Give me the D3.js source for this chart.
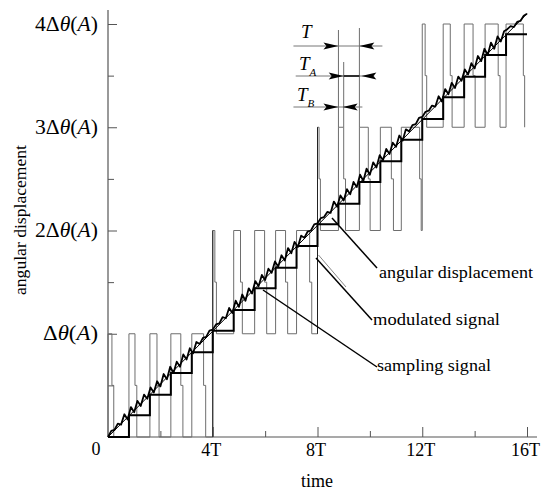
<!DOCTYPE html>
<html>
<head>
<meta charset="utf-8">
<script src="https://cdn.jsdelivr.net/npm/d3@7"></script>
<style>
body{margin:0;background:#fff;}
svg text{font-family:"Liberation Serif","Times New Roman",serif;fill:#000;}
</style>
</head>
<body>
<svg id="chart" width="542" height="493"></svg>
<script>
// axis ticks (time in T, displacement in units of delta theta)
var xMinorTicks = [2, 6, 10, 14];
var xMajorTicks = [4, 8, 12, 16];
var xLabels = ["4T", "8T", "12T", "16T"];
var yMinorTicks = [0.5, 1.5, 2.5, 3.5];
var yMajorTicks = [1, 2, 3, 4];
var yLabelPre = ["", "2", "3", "4"];

// angular displacement (straight line)
var dispT = [0, 16];
var dispV = [0, 4.1];

// sampling signal (held staircase)
var sampleT = [0, 0.8, 1.6, 2.4, 3.2, 4, 4.8, 5.6, 6.4, 7.2, 8, 8.8, 9.6, 10.4, 11.2, 12, 12.8, 13.6, 14.4, 15.2];
var sampleV = [0, 0.21, 0.41, 0.62, 0.82, 1.03, 1.23, 1.44, 1.64, 1.85, 2.06, 2.26, 2.47, 2.67, 2.88, 3.08, 3.29, 3.49, 3.70, 3.90];
var sampleEnd = 16;

// modulated signal (pulses)
var pulseRise = [0, 0.8, 1.6, 2.4, 3.2, 4, 4.8, 5.6, 6.4, 7.2, 8, 8.8, 9.6, 10.4, 11.2, 12, 12.8, 13.6, 14.4, 15.2];
var pulseFall = [0.15, 1.03, 1.87, 2.78, 3.65, 4.08, 5.06, 5.98, 6.78, 7.70, 8.06, 9.00, 9.94, 10.82, 11.90, 12.11, 13.07, 13.94, 14.90, 15.86];
var pulseFallEnd = [0.22, 1.10, 1.95, 2.86, 3.73, 4.14, 5.13, 6.06, 6.86, 7.78, 8.11, 9.07, 10.01, 10.90, 11.96, 12.17, 13.14, 14.02, 14.97, 15.91];
var pulseBase = [0, 0, 0, 0, 0, 1, 1, 1, 1, 1, 2, 2, 2, 2, 2, 3, 3, 3, 3, 3];
// level jumps drawn darker
var boundaryT = [4, 8];

// jagged measured trace, one value every T/8
var jagStep = 0.125;
var jagV = [0, 0.06, 0.07, 0.13, 0.12, 0.22, 0.17, 0.29, 0.24, 0.35, 0.30, 0.41, 0.37, 0.48, 0.43, 0.54,
  0.49, 0.61, 0.56, 0.68, 0.62, 0.73, 0.68, 0.80, 0.75, 0.86, 0.81, 0.92, 0.90, 0.96, 0.97, 1.03,
  1.04, 1.09, 1.10, 1.16, 1.15, 1.25, 1.20, 1.32, 1.26, 1.38, 1.32, 1.44, 1.39, 1.51, 1.46, 1.57,
  1.52, 1.63, 1.59, 1.70, 1.65, 1.76, 1.71, 1.83, 1.78, 1.89, 1.84, 1.95, 1.93, 1.99, 2.00, 2.06,
  2.07, 2.12, 2.13, 2.18, 2.17, 2.28, 2.23, 2.34, 2.29, 2.40, 2.35, 2.47, 2.42, 2.54, 2.48, 2.60,
  2.54, 2.66, 2.61, 2.73, 2.68, 2.79, 2.74, 2.85, 2.81, 2.92, 2.87, 2.98, 2.96, 3.02, 3.03, 3.09,
  3.10, 3.15, 3.16, 3.21, 3.20, 3.30, 3.25, 3.37, 3.32, 3.43, 3.38, 3.49, 3.45, 3.56, 3.51, 3.62,
  3.57, 3.69, 3.64, 3.76, 3.70, 3.82, 3.76, 3.88, 3.83, 3.93, 3.95, 3.98, 3.97, 4.02, 4.03, 4.08, 4.10];

// period annotation: start of T, end of high part, end of T
var annT0 = 8.8, annT1 = 9.0, annT2 = 9.6;

var svg = d3.select('#chart');
var x = d3.scaleLinear().domain([0, 16]).range([108, 527]);
var y = d3.scaleLinear().domain([0, 4]).range([437, 24]);
var axisColor = '#555';
var waveColor = '#6e6e6e';

// x axis
var gx = svg.append('g').attr('transform', 'translate(0,' + y(0) + ')');
gx.call(d3.axisBottom(x).tickValues(xMinorTicks).tickSize(-6).tickSizeOuter(0).tickFormat(''));
gx.append('g').call(d3.axisBottom(x).tickValues(xMajorTicks).tickSize(-10).tickSizeOuter(0).tickPadding(6)
  .tickFormat(function(d, i){ return xLabels[i]; }));
gx.selectAll('.domain').remove();
gx.selectAll('line').attr('stroke', axisColor);
gx.selectAll('text').attr('font-size', 18).attr('font-family', null).attr('fill', '#000').attr('dx', -2);
svg.append('line').attr('x1', x(0)).attr('x2', 537).attr('y1', y(0)).attr('y2', y(0))
  .attr('stroke', axisColor).attr('stroke-width', 1.2);

// y axis
var gy = svg.append('g').attr('transform', 'translate(' + x(0) + ',0)');
gy.call(d3.axisLeft(y).tickValues(yMinorTicks).tickSize(-6).tickSizeOuter(0).tickFormat(''));
gy.append('g').call(d3.axisLeft(y).tickValues(yMajorTicks).tickSize(-9).tickSizeOuter(0).tickFormat(''));
gy.selectAll('.domain').remove();
gy.selectAll('line').attr('stroke', axisColor);
svg.append('line').attr('x1', x(0)).attr('x2', x(0)).attr('y1', y(0)).attr('y2', 10)
  .attr('stroke', axisColor).attr('stroke-width', 1.2);

yMajorTicks.forEach(function(v, i){
  var t = svg.append('text').attr('x', 98).attr('y', y(v) + 6.5).attr('text-anchor', 'end')
    .attr('font-size', 20).attr('textLength', yLabelPre[i] ? 63 : 55).attr('lengthAdjust', 'spacingAndGlyphs');
  t.append('tspan').text(yLabelPre[i] + 'Δ');
  t.append('tspan').attr('font-style', 'italic').text('θ');
  t.append('tspan').text('(');
  t.append('tspan').attr('font-style', 'italic').text('A');
  t.append('tspan').text(')');
});

svg.append('text').attr('x', 96).attr('y', 455).attr('text-anchor', 'middle').attr('font-size', 18).text('0');
svg.append('text').attr('x', 317).attr('y', 487).attr('text-anchor', 'middle').attr('font-size', 18).text('time');
svg.append('text').attr('transform', 'translate(26,220) rotate(-90)').attr('text-anchor', 'middle')
  .attr('font-size', 17).attr('textLength', 150).attr('lengthAdjust', 'spacingAndGlyphs').text('angular displacement');

// modulated signal
var wavePts = [];
var prev = 0;
for(var k = 0; k < pulseRise.length; k++){
  var b = pulseBase[k];
  wavePts.push([pulseRise[k], prev]);
  wavePts.push([pulseRise[k], b + 1]);
  wavePts.push([pulseFall[k], b + 1]);
  wavePts.push([pulseFall[k], b + 0.5]);
  wavePts.push([pulseFallEnd[k], b + 0.5]);
  wavePts.push([pulseFallEnd[k], b]);
  prev = b;
}
var line = d3.line().x(function(d){ return x(d[0]); }).y(function(d){ return y(d[1]); });
svg.append('path').attr('d', line(wavePts)).attr('fill', 'none').attr('stroke', waveColor).attr('stroke-width', 1);
boundaryT.forEach(function(t){
  var k = pulseRise.indexOf(t);
  svg.append('line').attr('x1', x(t)).attr('x2', x(t)).attr('y1', y(pulseBase[k - 1])).attr('y2', y(pulseBase[k] + 1))
    .attr('stroke', '#222').attr('stroke-width', 1);
});

// annotation lines above the pulses
[[annT0, 30], [annT1, 62], [annT2, 28]].forEach(function(a){
  svg.append('line').attr('x1', x(a[0])).attr('x2', x(a[0])).attr('y1', a[1]).attr('y2', y(3))
    .attr('stroke', waveColor).attr('stroke-width', 1);
});

// angular displacement
svg.append('path').attr('d', line(dispT.map(function(t, i){ return [t, dispV[i]]; })))
  .attr('fill', 'none').attr('stroke', '#000').attr('stroke-width', 1);

// sampling signal
var stairPts = sampleT.map(function(t, i){ return [t, sampleV[i]]; });
stairPts.push([sampleEnd, sampleV[sampleV.length - 1]]);
svg.append('path').attr('d', line.curve(d3.curveStepAfter)(stairPts))
  .attr('fill', 'none').attr('stroke', '#000').attr('stroke-width', 2);
line.curve(d3.curveLinear);

// jagged trace
svg.append('path').attr('d', line(jagV.map(function(v, i){ return [i * jagStep, v]; })))
  .attr('fill', 'none').attr('stroke', '#000').attr('stroke-width', 1.8).attr('stroke-linejoin', 'round');

// period arrows
function head(tipX, yy, dir){
  svg.append('path').attr('d', 'M' + tipX + ',' + yy + 'L' + (tipX - dir * 15) + ',' + (yy - 3.5) +
    'L' + (tipX - dir * 12) + ',' + yy + 'L' + (tipX - dir * 15) + ',' + (yy + 3.5) + 'Z').attr('fill', '#000');
}
function shaft(x1, x2, yy, col, w){
  svg.append('line').attr('x1', x1).attr('x2', x2).attr('y1', yy).attr('y2', yy)
    .attr('stroke', col).attr('stroke-width', w);
}
shaft(x(annT0) - 45, x(annT2) + 23, 46, '#777', 1);
head(x(annT0), 46, 1); head(x(annT2), 46, -1);
shaft(x(annT1) - 48, x(annT2) + 15, 76, '#777', 1);
shaft(x(annT1), x(annT2), 76, '#000', 1.5);
head(x(annT1), 76, 1); head(x(annT2) + 2, 76, -1);
shaft(x(annT0) - 45, x(annT2) + 3, 107, '#777', 1);
head(x(annT0), 107, 1); head(x(annT1) - 1, 107, -1);

function tLabel(xx, yy, sub){
  var t = svg.append('text').attr('x', xx).attr('y', yy).attr('font-size', 19).attr('font-style', 'italic');
  t.append('tspan').text('T');
  if(sub) t.append('tspan').attr('font-size', 11).attr('dy', 6).text(sub);
}
tLabel(301, 38, '');
tLabel(299, 70, 'A');
tLabel(297, 101, 'B');

// pointer labels
function pointer(x1, y1, x2, y2){
  svg.append('line').attr('x1', x1).attr('y1', y1).attr('x2', x2).attr('y2', y2)
    .attr('stroke', '#000').attr('stroke-width', 1.5);
}
pointer(332, 218, 377, 268);
svg.append('line').attr('x1', 318.5).attr('y1', 255).attr('x2', 346).attr('y2', 287)
  .attr('stroke', '#888').attr('stroke-width', 1);
pointer(316, 258, 372, 320);
pointer(263, 290, 377, 367);
svg.append('text').attr('x', 379).attr('y', 278).attr('font-size', 17).attr('textLength', 154)
  .attr('lengthAdjust', 'spacingAndGlyphs').text('angular displacement');
svg.append('text').attr('x', 373).attr('y', 325).attr('font-size', 17).attr('textLength', 127)
  .attr('lengthAdjust', 'spacingAndGlyphs').text('modulated signal');
svg.append('text').attr('x', 377).attr('y', 371).attr('font-size', 17).attr('textLength', 114)
  .attr('lengthAdjust', 'spacingAndGlyphs').text('sampling signal');
</script>
</body>
</html>
